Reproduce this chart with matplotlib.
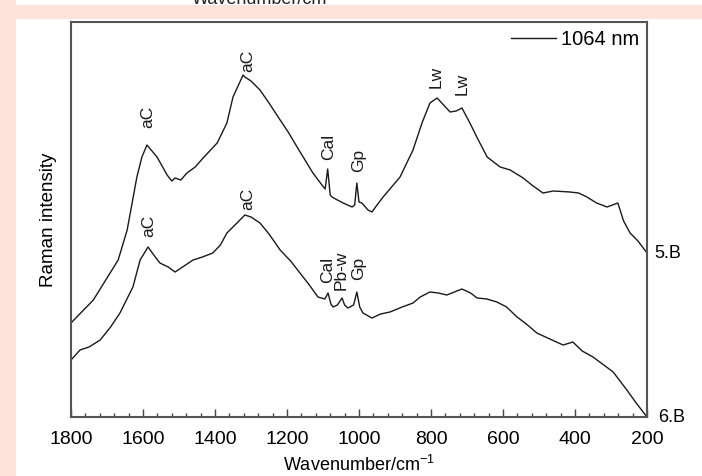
import matplotlib
matplotlib.use("Agg")
import matplotlib.pyplot as plt
import matplotlib.patches as patches
from matplotlib.ticker import MultipleLocator

plt.rcParams['font.family'] = ['Liberation Sans', 'DejaVu Sans']
plt.rcParams['mathtext.fontset'] = 'custom'
plt.rcParams['mathtext.rm'] = 'Liberation Sans'

# ===== DATA =====
# spectrum 5.B (upper trace)
wn_5b = [1800, 1738, 1669, 1644, 1617, 1603, 1589, 1575, 1561, 1533, 1520, 1511, 1495, 1478,
         1455, 1433, 1394, 1367, 1350, 1322, 1317, 1300, 1275, 1250, 1219, 1195, 1172, 1150,
         1128, 1105, 1094, 1087, 1080, 1075, 1060, 1044, 1019, 1012, 1006, 1000, 992, 975,
         964, 950, 933, 886, 850, 825, 803, 783, 770, 747, 730, 714, 692, 670, 644, 608,
         580, 544, 520, 489, 460, 414, 390, 367, 340, 311, 281, 265, 247, 225, 200]
int_5b = [94, 117, 157, 187, 240, 260, 272, 266, 260, 242, 236, 239, 237, 244,
          250, 259, 274, 294, 320, 342, 340, 336, 327, 314, 297, 284, 270, 257,
          244, 233, 228, 248, 222, 220, 217, 214, 210, 212, 234, 215, 214, 207,
          205, 212, 220, 240, 267, 294, 314, 319, 314, 305, 306, 309, 294, 278, 260, 250,
          247, 239, 232, 224, 226, 225, 224, 220, 214, 210, 214, 196, 184, 176, 164]

# spectrum 6.B (lower trace)
wn_6b = [1800, 1775, 1750, 1719, 1690, 1664, 1628, 1608, 1586, 1570, 1553, 1530, 1511, 1490,
         1461, 1435, 1406, 1385, 1367, 1339, 1317, 1300, 1275, 1250, 1219, 1190, 1164, 1140,
         1114, 1095, 1086, 1078, 1072, 1060, 1047, 1040, 1031, 1015, 1006, 998, 989, 964,
         940, 914, 880, 850, 830, 803, 780, 756, 735, 714, 690, 672, 645, 617, 590, 561,
         535, 506, 470, 433, 406, 380, 350, 320, 294, 256, 230, 200]
int_6b = [57, 67, 70, 77, 90, 104, 130, 157, 170, 162, 154, 150, 145, 150,
          157, 160, 164, 172, 184, 194, 202, 200, 194, 183, 167, 156, 144, 133,
          120, 118, 124, 113, 110, 112, 119, 112, 109, 112, 125, 110, 104, 99,
          103, 105, 110, 114, 120, 125, 124, 122, 125, 128, 124, 119, 118, 115, 110, 100,
          93, 84, 78, 72, 75, 66, 60, 52, 45, 27, 14, 0]

# peak labels: (text, wavenumber, bottom of label in intensity units)
labels_5b = [("aC", 1586, 289), ("aC", 1310, 345), ("Cal", 1083, 257),
             ("Gp", 1000, 245), ("Lw", 785, 329), ("Lw", 714, 322)]
labels_6b = [("aC", 1584, 180), ("aC", 1308, 207), ("Cal", 1086, 134),
             ("Pb-w", 1050, 127), ("Gp", 1002, 137)]

trace_names = ["5.B", "6.B"]
legend_label = "1064 nm"

# ===== PLOT =====
fig = plt.figure(figsize=(7.02, 4.76), dpi=100)
fig.patch.set_facecolor("white")

# page background bits around the figure (pink strips from the web page)
pink = "#fde3d9"
fig.patches.append(patches.Rectangle((0, 0), 16/702, 1, transform=fig.transFigure,
                                     facecolor=pink, edgecolor="none", zorder=5))
fig.patches.append(patches.Rectangle((0, 1-19/476), 1, 14/476, transform=fig.transFigure,
                                     facecolor=pink, edgecolor="none", zorder=5))
fig.text(0.37, 1-4/476, "Wavenumber/cm", fontsize=13, ha="center", va="baseline", color="#222")

ax = fig.add_axes([71/702, 1-417/476, 576/702, 395/476])
ax.plot(wn_5b, int_5b, color="#1a1a1a", lw=1.0, label=legend_label)
ax.plot(wn_6b, int_6b, color="#1a1a1a", lw=1.0)

ax.set_xlim(1800, 200)
ax.set_ylim(0, 395)
ax.set_yticks([])
ax.xaxis.set_major_locator(MultipleLocator(200))
ax.xaxis.set_minor_locator(MultipleLocator(40))
ax.tick_params(axis="x", which="major", direction="in", length=6, width=1, labelsize=14, pad=10, color="#444")
ax.tick_params(axis="x", which="minor", direction="in", length=3, width=1, color="#444")
for sp in ax.spines.values():
    sp.set_color("#555555")
    sp.set_linewidth(1.5)

ax.set_xlabel("Wavenumber/cm$^{-1}$", fontsize=13, labelpad=5)
ax.set_ylabel("Raman intensity", fontsize=13.5, labelpad=10)

for txt, w, y in labels_5b + labels_6b:
    ax.text(w, y, txt, rotation=90, ha="center", va="bottom", fontsize=12.5, color="#1a1a1a")

ax.text(1.012, 164, trace_names[0], transform=ax.get_yaxis_transform(), fontsize=13, va="center", ha="left")
ax.text(1.02, 0, trace_names[1], transform=ax.get_yaxis_transform(), fontsize=13, va="center", ha="left")

ax.legend(loc="upper right", frameon=False, fontsize=14.5, handlelength=2.2, handletextpad=0.25,
          borderaxespad=0.3, borderpad=0.1)

fig.savefig("out.png", dpi=100)
